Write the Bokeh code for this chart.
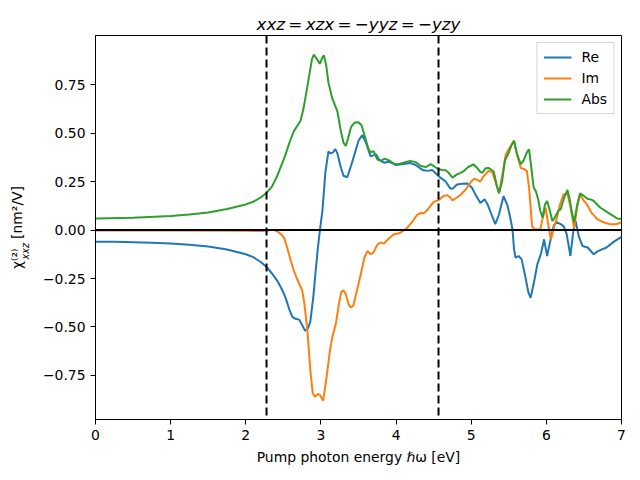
import math
from bokeh.plotting import figure
from bokeh.models import Range1d, FixedTicker, Span, Legend, LegendItem, LinearAxis
from bokeh.embed import file_html
from bokeh.resources import INLINE

# ---------------- data ----------------
re_x = [0.00, 0.25, 0.50, 0.75, 1.00, 1.25, 1.50, 1.75, 2.00, 2.10, 2.20, 2.28, 2.35, 2.42, 2.48,
        2.53, 2.58, 2.62, 2.66, 2.71, 2.75, 2.79, 2.83, 2.86, 2.90, 2.93, 2.96, 2.99, 3.02, 3.06,
        3.10, 3.13, 3.16, 3.19, 3.22, 3.26, 3.30, 3.35, 3.40, 3.46, 3.50, 3.55, 3.60, 3.66, 3.70,
        3.73, 3.78, 3.84, 3.90, 3.95, 4.00, 4.10, 4.19, 4.26, 4.35, 4.42, 4.48, 4.52, 4.59, 4.66,
        4.72, 4.75, 4.81, 4.88, 4.95, 5.01, 5.06, 5.12, 5.18, 5.22, 5.27, 5.32, 5.37, 5.43, 5.48,
        5.52, 5.55, 5.57, 5.59, 5.63, 5.67, 5.72, 5.76, 5.79, 5.83, 5.88, 5.93, 5.97, 6.01, 6.05,
        6.10, 6.14, 6.19, 6.23, 6.27, 6.32, 6.36, 6.39, 6.43, 6.48, 6.55, 6.63, 6.68, 6.74, 6.80,
        6.90, 7.00]
re_y = [-0.060, -0.061, -0.063, -0.066, -0.070, -0.076, -0.085, -0.100, -0.125, -0.140, -0.165,
        -0.192, -0.225, -0.262, -0.305, -0.350, -0.410, -0.448, -0.458, -0.462, -0.490, -0.520,
        -0.505, -0.470, -0.340, -0.210, -0.090, 0.010, 0.100, 0.300, 0.405, 0.395, 0.400, 0.418,
        0.395, 0.330, 0.280, 0.272, 0.330, 0.407, 0.460, 0.490, 0.450, 0.380, 0.385, 0.392, 0.360,
        0.347, 0.352, 0.345, 0.335, 0.340, 0.345, 0.335, 0.310, 0.305, 0.310, 0.295, 0.270, 0.250,
        0.215, 0.212, 0.235, 0.238, 0.240, 0.218, 0.180, 0.140, 0.158, 0.130, 0.080, 0.030, 0.080,
        0.175, 0.130, 0.063, 0.000, -0.100, -0.143, -0.134, -0.150, -0.240, -0.320, -0.350, -0.280,
        -0.177, -0.120, -0.048, -0.134, -0.060, 0.025, 0.040, 0.030, 0.020, -0.020, -0.134, 0.000,
        0.046, -0.030, -0.082, -0.090, -0.125, -0.110, -0.100, -0.090, -0.060, -0.035]

im_x = [0.00, 1.00, 2.00, 2.20, 2.28, 2.33, 2.38, 2.43, 2.48, 2.51, 2.55, 2.60, 2.64, 2.68, 2.72,
        2.75, 2.78, 2.82, 2.86, 2.89, 2.92, 2.96, 2.99, 3.03, 3.06, 3.08, 3.12, 3.15, 3.20, 3.24,
        3.27, 3.30, 3.33, 3.37, 3.40, 3.43, 3.48, 3.53, 3.58, 3.62, 3.66, 3.70, 3.75, 3.79, 3.84,
        3.90, 3.97, 4.03, 4.08, 4.15, 4.22, 4.28, 4.33, 4.37, 4.43, 4.50, 4.57, 4.63, 4.68, 4.72,
        4.75, 4.80, 4.86, 4.93, 5.00, 5.04, 5.08, 5.12, 5.17, 5.23, 5.28, 5.33, 5.37, 5.42, 5.46,
        5.52, 5.57, 5.61, 5.66, 5.70, 5.74, 5.77, 5.81, 5.84, 5.88, 5.92, 5.95, 5.99, 6.02, 6.06,
        6.10, 6.14, 6.18, 6.23, 6.28, 6.32, 6.37, 6.41, 6.45, 6.50, 6.54, 6.60, 6.68, 6.76, 6.85,
        6.93, 7.00]
im_y = [-0.003, -0.003, -0.004, -0.005, -0.004, 0.000, 0.000, -0.010, -0.025, -0.040, -0.090,
        -0.160, -0.210, -0.250, -0.285, -0.310, -0.380, -0.520, -0.727, -0.840, -0.860, -0.845,
        -0.852, -0.880, -0.800, -0.744, -0.620, -0.555, -0.480, -0.380, -0.320, -0.310, -0.330,
        -0.385, -0.400, -0.390, -0.310, -0.228, -0.140, -0.108, -0.125, -0.115, -0.075, -0.065,
        -0.070, -0.045, -0.022, -0.018, -0.008, 0.012, 0.045, 0.078, 0.088, 0.086, 0.110, 0.145,
        0.155, 0.175, 0.180, 0.168, 0.153, 0.165, 0.182, 0.210, 0.250, 0.265, 0.258, 0.250, 0.280,
        0.304, 0.300, 0.240, 0.190, 0.300, 0.390, 0.430, 0.460, 0.390, 0.320, 0.315, 0.305, 0.220,
        0.020, 0.005, 0.003, 0.003, 0.060, 0.115, 0.040, -0.048, 0.010, 0.063, 0.130, 0.184, 0.190,
        0.120, 0.010, 0.120, 0.184, 0.150, 0.132, 0.090, 0.055, 0.040, 0.030, 0.030, 0.040]

abs_x = [0.00, 0.50, 1.00, 1.25, 1.50, 1.75, 2.00, 2.10, 2.20, 2.28, 2.35, 2.42, 2.48, 2.53, 2.58,
         2.64, 2.69, 2.73, 2.77, 2.81, 2.85, 2.88, 2.905, 2.94, 2.985, 3.02, 3.04, 3.07, 3.10, 3.15,
         3.19, 3.22, 3.26, 3.30, 3.33, 3.36, 3.40, 3.45, 3.50, 3.54, 3.59, 3.63, 3.66, 3.70, 3.75,
         3.80, 3.85, 3.90, 3.95, 3.99, 4.05, 4.12, 4.19, 4.26, 4.33, 4.40, 4.46, 4.52, 4.57, 4.62,
         4.66, 4.70, 4.75, 4.81, 4.86, 4.90, 4.96, 5.03, 5.08, 5.12, 5.15, 5.19, 5.23, 5.27, 5.30,
         5.34, 5.37, 5.41, 5.45, 5.50, 5.54, 5.57, 5.61, 5.66, 5.70, 5.74, 5.77, 5.80, 5.83, 5.86,
         5.89, 5.92, 5.95, 5.98, 6.01, 6.04, 6.08, 6.12, 6.16, 6.19, 6.24, 6.28, 6.31, 6.34, 6.37,
         6.41, 6.45, 6.50, 6.55, 6.59, 6.63, 6.68, 6.72, 6.78, 6.84, 6.90, 6.95, 7.00]
abs_y = [0.060, 0.063, 0.072, 0.080, 0.090, 0.108, 0.132, 0.146, 0.168, 0.193, 0.225, 0.280, 0.340,
         0.390, 0.450, 0.510, 0.540, 0.565, 0.630, 0.720, 0.810, 0.880, 0.905, 0.885, 0.857, 0.890,
         0.900, 0.850, 0.760, 0.680, 0.640, 0.610, 0.520, 0.450, 0.433, 0.470, 0.530, 0.555, 0.556,
         0.540, 0.476, 0.420, 0.400, 0.407, 0.364, 0.358, 0.368, 0.360, 0.348, 0.339, 0.342, 0.350,
         0.356, 0.350, 0.330, 0.325, 0.340, 0.325, 0.313, 0.310, 0.308, 0.295, 0.270, 0.287, 0.295,
         0.304, 0.325, 0.339, 0.320, 0.300, 0.295, 0.318, 0.320, 0.310, 0.300, 0.230, 0.190, 0.250,
         0.360, 0.400, 0.440, 0.460, 0.390, 0.340, 0.360, 0.400, 0.416, 0.320, 0.220, 0.200, 0.160,
         0.098, 0.063, 0.130, 0.150, 0.110, 0.046, 0.070, 0.100, 0.107, 0.170, 0.207, 0.160, 0.090,
         0.040, 0.130, 0.190, 0.175, 0.160, 0.158, 0.150, 0.130, 0.115, 0.100, 0.085, 0.070, 0.058,
         0.058]

gap_lines = [2.276, 4.565]
zero_level = 0.0
x_ticks = [0, 1, 2, 3, 4, 5, 6, 7]
y_ticks = [-0.75, -0.5, -0.25, 0.0, 0.25, 0.5, 0.75]
y_tick_labels = ["\u22120.75", "\u22120.50", "\u22120.25", "0.00", "0.25", "0.50", "0.75"]
series_names = ["Re", "Im", "Abs"]
series_colors = ["#1f77b4", "#ff7f0e", "#2ca02c"]
THIN = "\u2009"
EN = "\u2002"
EM = "\u2003"
title_text = ("xxz" + THIN + "=" + THIN + "xzx" + THIN + "=" + THIN + "\u2212yyz"
              + THIN + "=" + THIN + "\u2212yzy")
x_label = "Pump photon energy \u210f\u03c9 [eV]"
y_label_main = "\u03c7\u207d\u00b2\u207e" + EN + THIN + "[nm\u00b2/V]"
y_label_sub = "xxz"

FONT = "DejaVu Sans"
TICK_FS = "13.9px"

p = figure(width=640, height=480, output_backend="svg", toolbar_location=None,
           x_range=Range1d(0, 7), y_range=Range1d(-0.977, 1.003),
           min_border_left=95, min_border_right=19, min_border_top=35, min_border_bottom=61)
p.xgrid.visible = False
p.ygrid.visible = False
p.outline_line_color = "black"
p.outline_line_width = 1
p.outline_line_alpha = 1
p.background_fill_color = "white"
p.border_fill_color = "white"

p.title.text = title_text
p.title.align = "center"
p.title.text_font = FONT
p.title.text_font_size = "16.7px"
p.title.text_font_style = "italic"
p.title.text_color = "black"
p.title.standoff = 4

for ax in (p.xaxis[0], p.yaxis[0]):
    ax.axis_line_color = "black"
    ax.axis_line_width = 1
    ax.major_tick_out = 5
    ax.major_tick_in = 0
    ax.major_tick_line_color = "black"
    ax.major_tick_line_width = 1
    ax.minor_tick_line_color = None
    ax.major_label_text_font = FONT
    ax.major_label_text_font_size = TICK_FS
    ax.major_label_text_color = "black"
    ax.major_label_standoff = 5

p.xaxis.ticker = FixedTicker(ticks=x_ticks)
p.yaxis.ticker = FixedTicker(ticks=y_ticks)
p.yaxis.major_label_overrides = {t: s for t, s in zip(y_ticks, y_tick_labels)}

p.xaxis.axis_label = x_label
p.xaxis.axis_label_text_font = FONT
p.xaxis.axis_label_text_font_size = TICK_FS
p.xaxis.axis_label_text_font_style = "normal"
p.xaxis.axis_label_text_color = "black"
p.xaxis.axis_label_standoff = 6


def label_axis(text, size, style, standoff):
    a = LinearAxis(ticker=FixedTicker(ticks=[]), axis_line_color=None,
                   major_tick_line_color=None, minor_tick_line_color=None,
                   major_tick_out=0, major_tick_in=0, minor_tick_out=0, minor_tick_in=0,
                   major_label_standoff=0, major_label_text_font_size="1px")
    a.axis_label = text
    a.axis_label_text_font = FONT
    a.axis_label_text_font_size = size
    a.axis_label_text_font_style = style
    a.axis_label_text_color = "black"
    a.axis_label_standoff = standoff
    p.add_layout(a, "left")
    return a


# y-axis label chi^(2)_xxz [nm^2/V]: subscript axis next to ticks, main label outside it
label_axis(y_label_sub + EM * 4 + EN + THIN * 2, "9.7px", "italic", 9)
label_axis(y_label_main, TICK_FS, "normal", -8)

r_re = p.line(re_x, re_y, line_color=series_colors[0], line_width=2)
r_im = p.line(im_x, im_y, line_color=series_colors[1], line_width=2)
r_abs = p.line(abs_x, abs_y, line_color=series_colors[2], line_width=2)

p.add_layout(Span(location=zero_level, dimension="width", line_color="black", line_width=2))
for g in gap_lines:
    p.add_layout(Span(location=g, dimension="height", line_color="black",
                      line_width=2, line_dash="8 4"))

legend = Legend(items=[LegendItem(label=n, renderers=[r])
                       for n, r in zip(series_names, [r_re, r_im, r_abs])],
                location="top_right")
legend.margin = 7
legend.padding = 6
legend.spacing = 5
legend.glyph_width = 28
legend.glyph_height = 14
legend.label_height = 14
legend.label_standoff = 10
legend.label_text_font = FONT
legend.label_text_font_size = TICK_FS
legend.label_text_color = "black"
legend.border_line_color = "#cccccc"
legend.border_line_alpha = 0.8
legend.border_line_width = 1
legend.background_fill_alpha = 0.8
p.add_layout(legend)

open("out.html", "w").write(file_html(p, INLINE))
